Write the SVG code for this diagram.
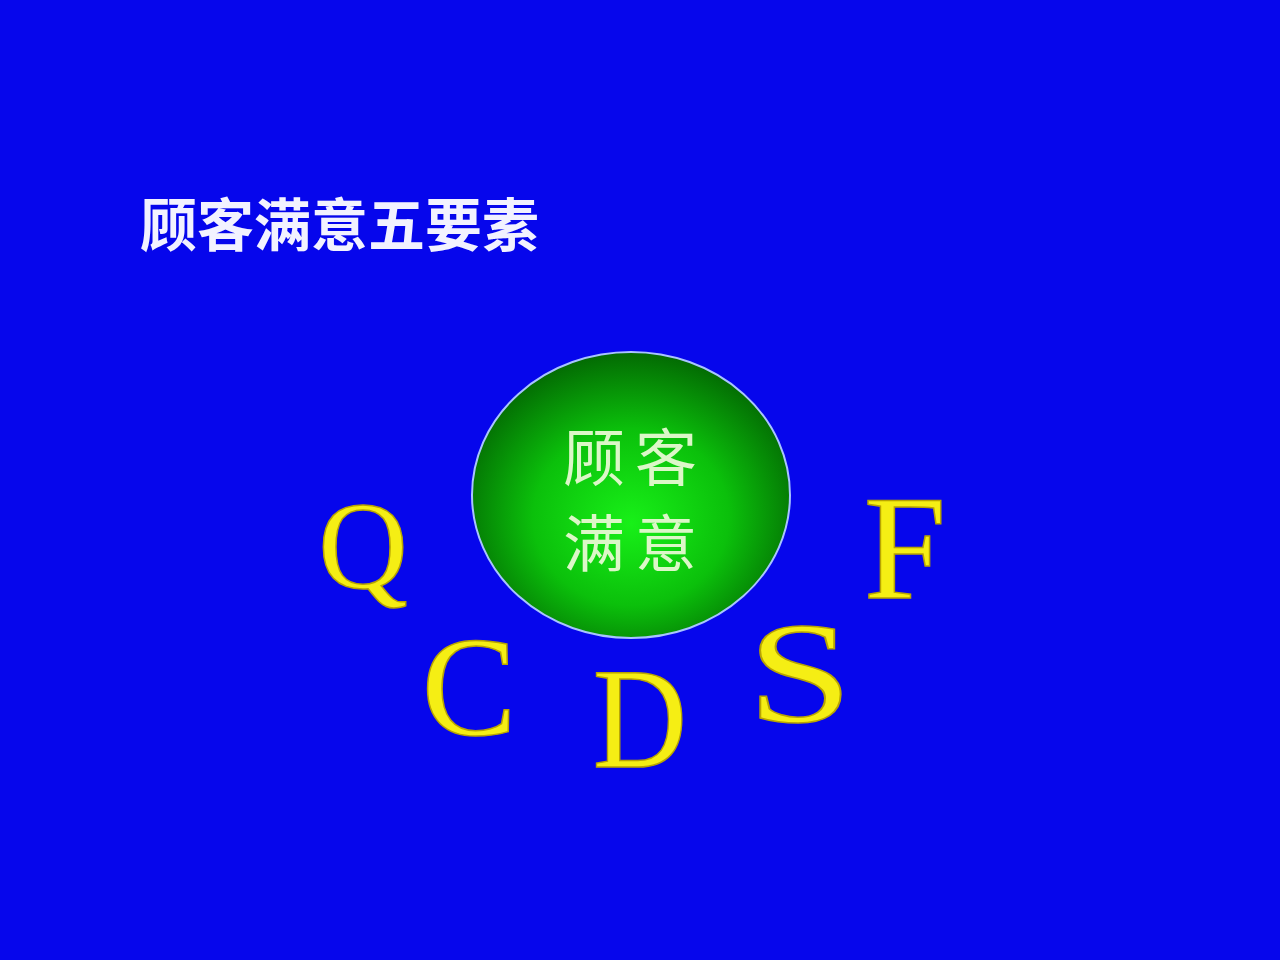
<svg xmlns="http://www.w3.org/2000/svg" width="1280" height="960" viewBox="0 0 1280 960">
<defs>
<radialGradient id="g" cx="50%" cy="56%" r="56%" fx="50%" fy="60%">
<stop offset="0" stop-color="#18f018"/>
<stop offset="0.55" stop-color="#0bc00b"/>
<stop offset="1" stop-color="#036a03"/>
</radialGradient>
</defs>
<style>
.t{font-family:"Noto Sans CJK SC","Noto Sans",sans-serif;font-weight:600;fill:#f2f2ff;font-size:57px}
.c{font-family:"Noto Sans CJK SC",sans-serif;font-weight:400;fill:#dcf7c8;font-size:62px;letter-spacing:10px;text-anchor:middle}
.L{font-family:"Liberation Serif","Times New Roman",serif;fill:#f5ee14;stroke:#b8a400;stroke-width:1.5;text-anchor:middle}
</style>
<rect width="1280" height="960" fill="#0606ec"/>
<g id="title"><text class="t" x="140" y="246">顾客满意五要素</text></g>
<g id="center">
<ellipse cx="631" cy="495" rx="159" ry="143" fill="url(#g)" stroke="#a8c4ff" stroke-width="2"/>
<text class="c" x="635" y="481">顾客</text>
<text class="c" x="635" y="567">满意</text>
</g>
<g id="Q"><text class="L" x="363" y="588" font-size="124" stroke-width="3">Q</text></g>
<g id="C"><text class="L" x="469" y="735" font-size="142">C</text></g>
<g id="D"><text class="L" transform="translate(640,767) scale(0.9,1)" x="0" y="0" font-size="145">D</text></g>
<g id="S"><text class="L" transform="translate(800,722) scale(1.3,1)" x="0" y="0" font-size="145">S</text></g>
<g id="F"><text class="L" x="905" y="598" font-size="148">F</text></g>
<g id="connectors"></g>
</svg>
